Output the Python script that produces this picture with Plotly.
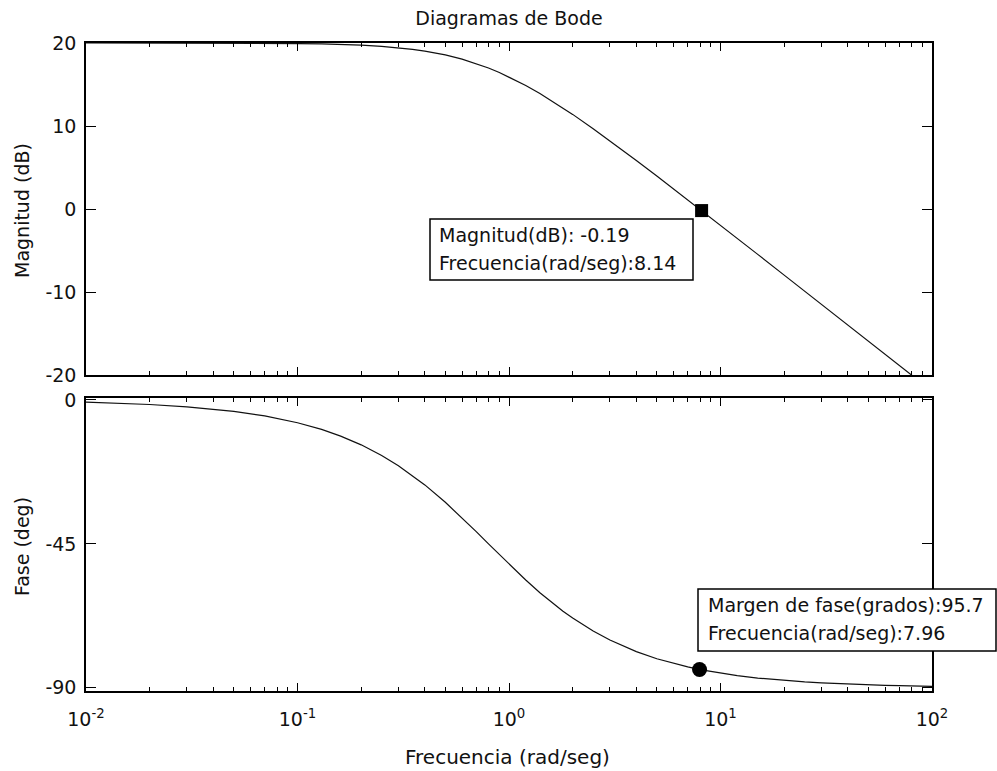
import plotly.graph_objects as go

# Frequency grid (rad/s) and the Bode curves read along it
freq = [0.01, 0.02, 0.03, 0.05, 0.07, 0.1, 0.13, 0.16, 0.2, 0.25, 0.3, 0.35,
        0.4, 0.5, 0.6, 0.7, 0.8, 0.9, 1.0, 1.2, 1.4, 1.6, 1.8, 2.0, 2.5, 3.0,
        3.5, 4.0, 5.0, 6.0, 7.0, 8.0, 10.0, 12.0, 15.0, 20.0, 25.0, 30.0,
        40.0, 50.0, 60.0, 70.0, 80.0, 100.0]
mag_db = [20.0, 20.0, 19.99, 19.98, 19.97, 19.93, 19.89, 19.83, 19.74, 19.60,
          19.43, 19.24, 19.03, 18.57, 18.06, 17.53, 16.99, 16.45, 15.91,
          14.88, 13.91, 13.01, 12.17, 11.40, 9.68, 8.22, 6.96, 5.85, 3.97,
          2.42, 1.10, -0.04, -1.97, -3.54, -5.47, -7.97, -9.90, -11.48,
          -13.98, -15.92, -17.50, -18.84, -20.0, -21.94]
phase_deg = [-0.72, -1.43, -2.15, -3.58, -5.00, -7.13, -9.23, -11.31, -14.04,
             -17.35, -20.56, -23.63, -26.57, -32.01, -36.87, -41.19, -45.0,
             -48.37, -51.34, -56.31, -60.26, -63.43, -66.04, -68.20, -72.26,
             -75.07, -77.13, -78.69, -80.91, -82.41, -83.48, -84.29, -85.43,
             -86.19, -86.95, -87.71, -88.17, -88.47, -88.85, -89.08, -89.24,
             -89.35, -89.43, -89.54]

# Data-tip readings
gain_cross_freq = 8.14
gain_cross_mag = -0.19
phase_cross_freq = 7.96
phase_margin = 95.7

# Tick definitions
x_major = [0.01, 0.1, 1, 10, 100]
x_major_text = ["10<sup>-2</sup>", "10<sup>-1</sup>", "10<sup>0</sup>",
                "10<sup>1</sup>", "10<sup>2</sup>"]
x_minor = [m * d for d in [0.01, 0.1, 1, 10] for m in range(2, 10)]
mag_ticks = [-20, -10, 0, 10, 20]
mag_tick_text = ["-20", "-10", "0", "10", "20"]
phase_ticks = [-90, -45, 0]
phase_tick_text = ["-90", "-45", "0"]

INK = "#111111"
FONT = "DejaVu Sans"

# Plot area spans x 86..932 px and y 43..691 px of the page
L, R, T, B = 86, 932, 43, 691


def px(x):
    return (x - L) / (R - L)


def py(y):
    return (B - y) / (B - T)


fig = go.Figure()

fig.add_trace(go.Scatter(x=freq, y=mag_db, mode="lines",
                         line=dict(color=INK, width=1.2),
                         xaxis="x", yaxis="y", showlegend=False))
fig.add_trace(go.Scatter(x=freq, y=phase_deg, mode="lines",
                         line=dict(color=INK, width=1.2),
                         xaxis="x2", yaxis="y2", showlegend=False))

fig.add_trace(go.Scatter(x=[gain_cross_freq], y=[gain_cross_mag], mode="markers",
                         marker=dict(symbol="square", size=13, color="black"),
                         xaxis="x", yaxis="y", showlegend=False))
fig.add_trace(go.Scatter(x=[phase_cross_freq], y=[phase_margin - 180],
                         mode="markers",
                         marker=dict(symbol="circle", size=15, color="black"),
                         xaxis="x2", yaxis="y2", showlegend=False))

common_x = dict(type="log", range=[-2, 2], showgrid=False, zeroline=False,
                showline=True, linecolor="black", linewidth=1.5,
                mirror="allticks", ticks="inside", ticklen=8,
                tickcolor="black", tickwidth=1,
                tickmode="array", tickvals=x_major,
                minor=dict(ticks="inside", ticklen=4, tickcolor="black",
                           tickwidth=1, tickmode="array", tickvals=x_minor,
                           showgrid=False))
common_y = dict(showgrid=False, zeroline=False, showline=True,
                linecolor="black", linewidth=1.5, mirror="allticks",
                ticks="inside", ticklen=10, tickcolor="black", tickwidth=1,
                tickmode="array", ticklabelstandoff=4)

fig.update_layout(
    width=997, height=771,
    margin=dict(l=L, r=997 - R, t=T, b=771 - B),
    paper_bgcolor="white", plot_bgcolor="white",
    font=dict(family=FONT, size=19, color=INK),
    title=dict(text="Diagramas de Bode", x=0.5, xref="paper",
               y=1 - 18 / 771, yref="container", yanchor="middle",
               xanchor="center", font=dict(size=19, color=INK)),
    xaxis=dict(common_x, anchor="y", domain=[0, 1], showticklabels=False),
    yaxis=dict(common_y, anchor="x", domain=[py(375), 1], range=[-20, 20],
               tickvals=mag_ticks, ticktext=mag_tick_text),
    xaxis2=dict(common_x, anchor="y2", domain=[0, 1], matches="x",
                ticktext=x_major_text, ticklabelstandoff=10),
    yaxis2=dict(common_y, anchor="x2", domain=[0, py(398)], range=[-91, 0.6],
                tickvals=phase_ticks, ticktext=phase_tick_text),
)

# Axis titles
fig.add_annotation(text="Magnitud (dB)", xref="paper", yref="paper",
                   x=px(22), y=py(211), textangle=-90,
                   showarrow=False, xanchor="center", yanchor="middle")
fig.add_annotation(text="Fase (deg)", xref="paper", yref="paper",
                   x=px(22), y=py(547), textangle=-90,
                   showarrow=False, xanchor="center", yanchor="middle")
fig.add_annotation(text="Frecuencia (rad/seg)", xref="paper", yref="paper",
                   x=px(507), y=py(757),
                   showarrow=False, xanchor="center", yanchor="middle",
                   font=dict(size=20))

# Data-tip boxes: frame plus one text line per row
tips = [
    (430, 693, 219, 280, 437,
     [f"Magnitud(dB): {gain_cross_mag:.2f}",
      f"Frecuencia(rad/seg):{gain_cross_freq:.2f}"]),
    (698, 996, 589, 651, 706,
     [f"Margen de fase(grados):{phase_margin:.1f}",
      f"Frecuencia(rad/seg):{phase_cross_freq:.2f}"]),
]
for x0, x1, y0, y1, tx, lines in tips:
    fig.add_shape(type="rect", xref="paper", yref="paper",
                  x0=px(x0), x1=px(x1), y0=py(y1), y1=py(y0),
                  line=dict(color="black", width=1.5), fillcolor="white",
                  layer="above")
    for i, line in enumerate(lines):
        fig.add_annotation(text=line, xref="paper", yref="paper",
                           x=px(tx), y=py(y0 + 16 + 28 * i),
                           xanchor="left", yanchor="middle",
                           showarrow=False, align="left")

fig.write_html("out.html")
